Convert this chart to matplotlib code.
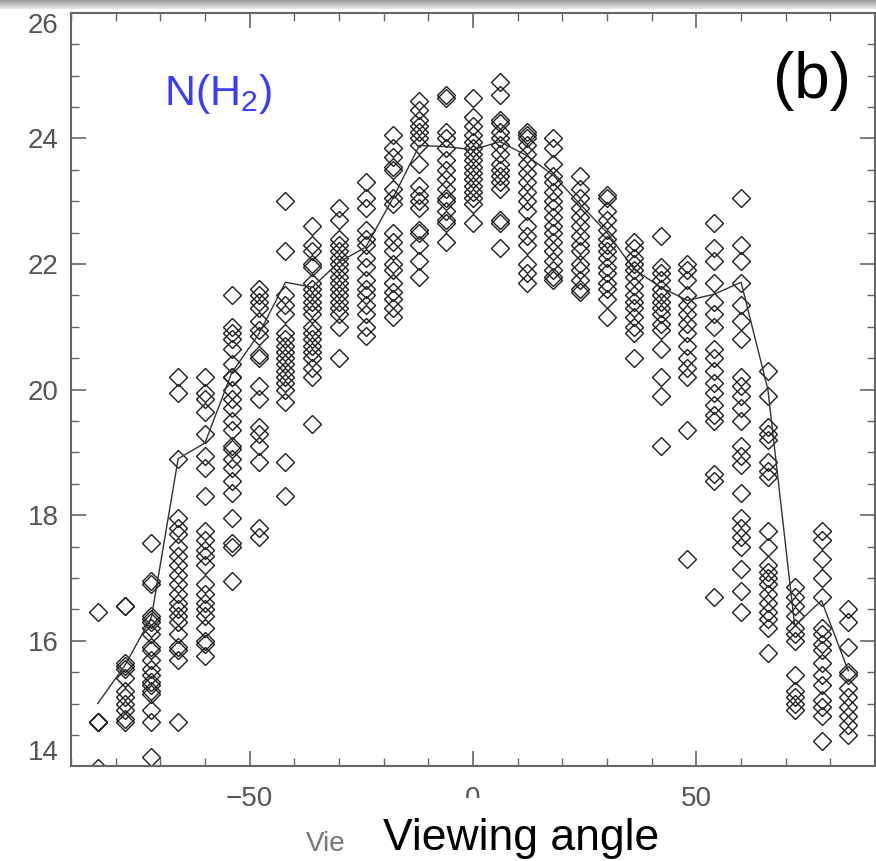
import numpy as np
import matplotlib
matplotlib.use("Agg")
import matplotlib.pyplot as plt
from matplotlib.patches import Rectangle
from matplotlib.ticker import MultipleLocator

plt.rcParams['font.family'] = ['Liberation Sans', 'DejaVu Sans']
plt.rcParams['mathtext.fontset'] = 'custom'
plt.rcParams['mathtext.rm'] = 'Liberation Sans'

# viewing angles of the columns (deg)
angles = [-84, -78, -72, -66, -60, -54, -48, -42, -36, -30, -24, -18, -12, -6, 0,
          6, 12, 18, 24, 30, 36, 42, 48, 54, 60, 66, 72, 78, 84]

# line through the columns
line_vals = [15.0, 15.6, 16.37, 18.9, 19.15, 20.27, 20.88, 21.71, 21.63, 22.03, 22.27,
             23.04, 23.89, 23.87, 23.82, 23.95, 23.73, 23.41, 22.95, 22.5, 21.92,
             21.63, 21.42, 21.52, 21.71, 20.0, 16.24, 16.64, 15.52]

# N(H2) values per column
column_values = [
    [16.45, 14.7, 14.7, 14.7, 13.97],
    [16.55, 16.55, 15.65, 15.6, 15.55, 15.4, 15.2, 15.1, 15.0, 14.9, 14.75, 14.7],
    [17.55, 16.95, 16.9, 16.4, 16.35, 16.3, 16.2, 16.1, 15.9, 15.85, 15.7, 15.55,
     15.45, 15.35, 15.3, 15.2, 15.15, 14.9, 14.7, 14.15],
    [20.2, 19.95, 18.9, 17.95, 17.8, 17.7, 17.5, 17.35, 17.2, 17.05, 16.9, 16.75,
     16.6, 16.5, 16.4, 16.3, 16.1, 15.9, 15.85, 15.7, 14.7],
    [20.2, 19.95, 19.85, 19.65, 19.3, 18.95, 18.75, 18.3, 17.75, 17.6, 17.45, 17.35,
     17.2, 16.9, 16.75, 16.6, 16.5, 16.4, 16.2, 16.0, 15.95, 15.75],
    [21.5, 21.0, 20.9, 20.8, 20.65, 20.4, 20.2, 20.2, 20.0, 19.85, 19.7, 19.5, 19.35,
     19.1, 19.05, 18.9, 18.75, 18.55, 18.35, 17.95, 17.55, 17.5, 16.95],
    [21.6, 21.5, 21.4, 21.3, 21.1, 20.95, 20.85, 20.55, 20.5, 20.05, 19.85, 19.4,
     19.3, 19.1, 18.85, 17.8, 17.65],
    [23.0, 22.2, 21.5, 21.35, 21.2, 20.9, 20.8, 20.7, 20.6, 20.5, 20.4, 20.3, 20.2,
     20.1, 20.0, 19.8, 18.85, 18.3],
    [22.6, 22.3, 22.2, 22.0, 21.95, 21.7, 21.6, 21.5, 21.4, 21.3, 21.2, 21.0, 20.9,
     20.8, 20.7, 20.6, 20.5, 20.35, 20.2, 19.45],
    [22.9, 22.7, 22.4, 22.3, 22.2, 22.1, 22.0, 21.9, 21.8, 21.7, 21.6, 21.5, 21.4,
     21.3, 21.2, 21.0, 20.5],
    [23.3, 23.05, 22.9, 22.55, 22.4, 22.3, 22.1, 21.95, 21.75, 21.6, 21.5, 21.35,
     21.2, 21.0, 20.85],
    [24.05, 23.85, 23.7, 23.55, 23.5, 23.2, 23.05, 22.95, 22.5, 22.35, 22.2, 22.0,
     21.9, 21.7, 21.55, 21.45, 21.3, 21.15],
    [24.6, 24.45, 24.3, 24.2, 24.1, 24.0, 23.9, 23.6, 23.25, 23.1, 23.0, 22.9, 22.55,
     22.5, 22.3, 22.05, 21.8],
    [24.7, 24.65, 24.1, 24.0, 23.85, 23.65, 23.5, 23.35, 23.2, 23.05, 23.0, 22.85,
     22.7, 22.65, 22.35],
    [24.65, 24.35, 24.2, 24.05, 23.95, 23.85, 23.75, 23.65, 23.55, 23.45, 23.35,
     23.25, 23.15, 23.05, 22.95, 22.65],
    [24.9, 24.7, 24.3, 24.25, 24.1, 24.0, 23.9, 23.75, 23.6, 23.5, 23.4, 23.3, 23.2,
     22.7, 22.65, 22.25],
    [24.1, 24.05, 24.0, 23.9, 23.75, 23.6, 23.45, 23.3, 23.15, 23.0, 22.85, 22.6,
     22.45, 22.3, 22.0, 21.85, 21.7],
    [24.0, 23.85, 23.6, 23.4, 23.3, 23.15, 23.0, 22.9, 22.75, 22.6, 22.5, 22.35,
     22.2, 22.05, 21.9, 21.8, 21.75],
    [23.4, 23.2, 23.05, 22.9, 22.75, 22.6, 22.45, 22.3, 22.2, 22.0, 21.9, 21.75,
     21.6, 21.55],
    [23.1, 23.05, 22.85, 22.7, 22.55, 22.4, 22.3, 22.2, 22.1, 21.95, 21.85, 21.7,
     21.6, 21.45, 21.15],
    [22.35, 22.25, 22.1, 22.0, 21.9, 21.8, 21.65, 21.5, 21.4, 21.3, 21.15, 21.0,
     20.9, 20.5],
    [22.45, 21.95, 21.85, 21.75, 21.6, 21.5, 21.4, 21.3, 21.2, 21.05, 20.95, 20.65,
     20.2, 19.9, 19.1],
    [22.0, 21.9, 21.75, 21.5, 21.35, 21.2, 21.05, 20.9, 20.7, 20.5, 20.35, 20.2,
     19.35, 17.3],
    [22.65, 22.25, 22.05, 21.7, 21.4, 21.2, 21.0, 20.65, 20.5, 20.3, 20.1, 19.95,
     19.75, 19.6, 19.5, 18.65, 18.55, 16.7],
    [23.05, 22.3, 22.05, 21.7, 21.35, 21.1, 20.8, 20.2, 20.05, 19.9, 19.7, 19.5,
     19.1, 18.95, 18.8, 18.35, 17.95, 17.8, 17.65, 17.5, 17.15, 16.8, 16.45],
    [20.3, 19.9, 19.4, 19.3, 19.2, 18.85, 18.7, 18.6, 17.75, 17.5, 17.2, 17.1, 17.0,
     16.9, 16.75, 16.6, 16.45, 16.35, 16.2, 15.8],
    [16.85, 16.7, 16.55, 16.4, 16.2, 16.1, 16.0, 15.45, 15.2, 15.1, 15.0, 14.9],
    [17.75, 17.6, 17.3, 17.0, 16.7, 16.2, 16.1, 15.95, 15.85, 15.65, 15.45, 15.3,
     15.05, 14.95, 14.8, 14.4],
    [16.5, 16.3, 15.9, 15.5, 15.45, 15.25, 15.1, 14.95, 14.8, 14.65, 14.5],
]

y_ticks = [14, 16, 18, 20, 22, 24, 26]

fig = plt.figure(figsize=(8.76, 8.61), dpi=100)
ax = fig.add_axes([0.081, 0.110, 0.918, 0.875])

for a, vals in zip(angles, column_values):
    ax.plot([a] * len(vals), vals, linestyle='none', marker='D', ms=9.5,
            mfc='none', mec='#1e1e1e', mew=1.0, clip_on=True)
ax.plot(angles, line_vals, color='#333333', lw=1.0)

ax.set_xlim(-90, 90)
ax.set_ylim(14, 26)
ax.xaxis.set_major_locator(MultipleLocator(50))
ax.xaxis.set_minor_locator(MultipleLocator(10))
ax.set_yticks(y_ticks)
ax.yaxis.set_minor_locator(MultipleLocator(0.5))
ax.tick_params(which='both', direction='in', top=True, right=True,
               color='#666666', labelcolor='#555555', labelsize=20)
ax.tick_params(which='major', length=11, width=1.2)
ax.tick_params(which='minor', length=6, width=1.0)
ax.tick_params(axis='y', pad=9)
ax.tick_params(axis='x', pad=14)
ylabels = ax.get_yticklabels()
ylabels[0].set_va('bottom')
ylabels[-1].set_va('top')
for s in ax.spines.values():
    s.set_color('#666666')
    s.set_linewidth(1.5)

ax.text(0.183, 0.893, 'N(H$_\\mathrm{2}$)', transform=ax.transAxes, color='#3b3bff',
        fontsize=31, ha='center', va='center')
ax.text(0.97, 0.91, '(b)', transform=ax.transAxes, color='black',
        fontsize=46, ha='right', va='center')

# visible remnant of the original small axis title
fig.text(306 / 876, 1 - 851 / 861, 'Vie', color='#777777', fontsize=20,
         ha='left', va='baseline')
fig.patches.append(Rectangle((356 / 876, 0), 314 / 876, 63 / 861,
                             transform=fig.transFigure, facecolor='white',
                             edgecolor='none', zorder=5))
fig.text(521 / 876, 1 - 850 / 861, 'Viewing angle', color='black', fontsize=32,
         ha='center', va='baseline', zorder=6)

# grey strip along the top edge
band = fig.add_axes([0, 1 - 9 / 861, 1, 9 / 861])
band.imshow(np.linspace(0.62, 0.9, 9).reshape(-1, 1), cmap='gray', vmin=0, vmax=1,
            aspect='auto', extent=(0, 1, 0, 1))
band.axis('off')

fig.savefig('out.png', dpi=100)
